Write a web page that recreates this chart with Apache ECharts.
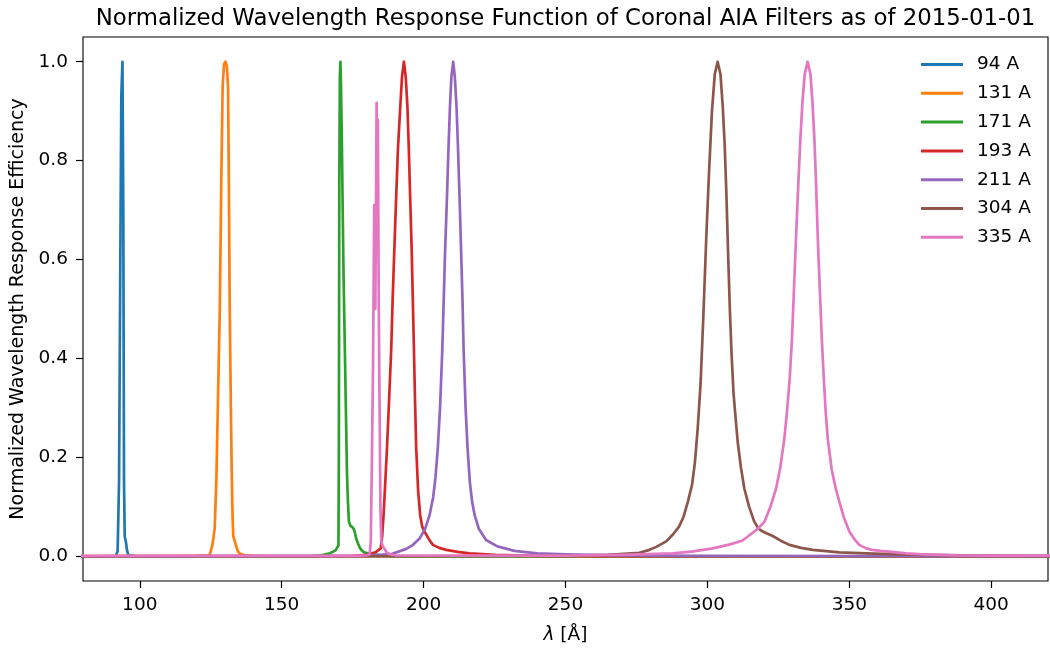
<!DOCTYPE html>
<html>
<head>
<meta charset="utf-8">
<script src="https://cdn.jsdelivr.net/npm/echarts@6/dist/echarts.min.js"></script>
<style>html,body{margin:0;padding:0;background:#fff}#c{width:1050px;height:650px}</style>
</head>
<body>
<div id="c"></div>
<script>
// ---- data ----
const seriesNames = ['94 A','131 A','171 A','193 A','211 A','304 A','335 A'];
const xTicks = [100,150,200,250,300,350,400];
const yTicks = [0,0.2,0.4,0.6,0.8,1.0];

const wl94 = [70, 91.5, 92.2, 92.7, 93.1, 93.5, 93.9, 94.2, 94.45, 94.7, 95.1, 95.5, 96.0, 100, 430];
const r94  = [0, 0, 0.01, 0.15, 0.55, 0.93, 1.0, 0.7, 0.15, 0.04, 0.03, 0.012, 0.002, 0, 0];

const wl131 = [70, 120, 124.6, 125.6, 126.4, 127.0, 127.6, 128.2, 128.7, 129.2, 129.7, 130.2, 130.7, 131.1, 131.4, 131.7, 132.1, 132.4, 132.7, 132.95, 133.3, 133.7, 134.1, 134.6, 135.3, 135.8, 137, 140, 145, 430];
const r131  = [0, 0.001, 0.002, 0.023, 0.056, 0.157, 0.33, 0.5, 0.75, 0.95, 0.995, 1.0, 0.99, 0.95, 0.75, 0.5, 0.3, 0.17, 0.08, 0.04, 0.034, 0.03, 0.018, 0.01, 0.005, 0.003, 0.002, 0.001, 0, 0];

const wl171 = [70, 160, 164, 167, 169, 170.0, 170.15, 170.3, 170.5, 170.7, 170.9, 171.2, 171.5, 171.8, 172.1, 172.4, 172.7, 173.0, 173.35, 173.7, 174.2, 174.6, 175.2, 175.7, 176.3, 176.9, 177.5, 178.0, 179, 181, 185, 190, 430];
const r171  = [0, 0, 0.002, 0.006, 0.012, 0.022, 0.2, 0.75, 0.97, 1.0, 0.95, 0.84, 0.7, 0.57, 0.47, 0.37, 0.27, 0.17, 0.11, 0.07, 0.062, 0.06, 0.057, 0.05, 0.035, 0.026, 0.018, 0.013, 0.008, 0.005, 0.002, 0, 0];

const wl193 = [70, 175, 180, 183, 184.9, 185.4, 185.9, 186.5, 187.1, 187.8, 188.6, 189.1, 189.7, 190.3, 190.96, 191.8, 192.4, 193.07, 193.7, 194.3, 194.8, 195.3, 195.8, 196.2, 196.6, 197.0, 197.4, 198.1, 198.8, 199.5, 200.35, 201.8, 203.3, 205.5, 208, 212, 216.2, 225, 240, 260, 430];
const r193  = [0, 0.001, 0.003, 0.008, 0.016, 0.04, 0.083, 0.15, 0.218, 0.31, 0.419, 0.52, 0.621, 0.72, 0.823, 0.91, 0.97, 1.0, 0.97, 0.91, 0.823, 0.72, 0.621, 0.52, 0.419, 0.31, 0.218, 0.13, 0.083, 0.06, 0.05, 0.035, 0.023, 0.017, 0.013, 0.009, 0.006, 0.003, 0.001, 0, 0];

const wl211 = [70, 180, 189, 193.9, 196, 198.6, 200.5, 202.1, 203.4, 204.2, 205.0, 205.8, 206.6, 207.1, 207.6, 208.2, 208.8, 209.3, 209.8, 210.45, 211.0, 211.6, 212.1, 212.7, 213.2, 213.7, 214.1, 214.8, 215.5, 216.3, 217.1, 218, 219.5, 222, 226, 232, 240, 250, 270, 300, 430];
const r211  = [0, 0.001, 0.005, 0.015, 0.022, 0.036, 0.055, 0.083, 0.12, 0.16, 0.218, 0.3, 0.419, 0.52, 0.621, 0.72, 0.83, 0.91, 0.97, 1.0, 0.97, 0.91, 0.83, 0.72, 0.621, 0.52, 0.419, 0.3, 0.218, 0.15, 0.11, 0.083, 0.055, 0.033, 0.02, 0.011, 0.006, 0.004, 0.002, 0.001, 0];

const wl304 = [70, 200, 250, 265, 276, 279.6, 282, 285.5, 288, 290, 291.6, 293.1, 294.6, 295.6, 296.6, 297.6, 298.6, 299.6, 300.6, 301.6, 302.6, 303.6, 304.6, 305.4, 306.1, 306.7, 307.3, 307.9, 308.5, 309.2, 310.0, 310.7, 311.8, 313.0, 314.7, 316.5, 318.0, 319.5, 321, 323, 326, 328.9, 333, 337.1, 346.5, 356, 367.6, 390, 420, 430];
const r304  = [0, 0, 0.001, 0.003, 0.007, 0.013, 0.019, 0.03, 0.045, 0.06, 0.08, 0.11, 0.145, 0.19, 0.26, 0.35, 0.49, 0.645, 0.78, 0.9, 0.975, 1.0, 0.975, 0.91, 0.83, 0.73, 0.61, 0.5, 0.41, 0.33, 0.275, 0.23, 0.18, 0.137, 0.1, 0.07, 0.056, 0.05, 0.046, 0.041, 0.031, 0.023, 0.017, 0.013, 0.008, 0.006, 0.004, 0.002, 0.001, 0.001];

const wl335 = [70, 175, 180, 181.0, 181.4, 181.8, 182.2, 182.6, 183.0, 183.45, 183.7, 183.9, 184.2, 184.5, 184.8, 185.1, 185.5, 186.2, 187, 188, 190, 250, 270, 287.8, 295, 301.9, 308, 312.4, 316.5, 318, 320.1, 322.2, 324.2, 325.7, 327.1, 328.0, 329.0, 329.8, 330.5, 331.2, 332.0, 332.75, 333.5, 334.3, 335.3, 336.3, 337.0, 337.7, 338.3, 338.9, 339.6, 340.3, 341.0, 341.7, 342.4, 343.8, 345.3, 346.5, 348, 350, 352, 353.5, 356, 358, 361, 364, 370, 375.7, 387, 400, 430];
const r335  = [0.001, 0.001, 0.002, 0.004, 0.03, 0.2, 0.39, 0.71, 0.5, 0.917, 0.7, 0.883, 0.51, 0.3, 0.1, 0.03, 0.022, 0.015, 0.008, 0.004, 0.002, 0.0015, 0.003, 0.006, 0.01, 0.016, 0.024, 0.032, 0.05, 0.057, 0.07, 0.1, 0.137, 0.18, 0.238, 0.29, 0.36, 0.44, 0.54, 0.641, 0.75, 0.843, 0.92, 0.975, 1.0, 0.975, 0.92, 0.843, 0.75, 0.641, 0.54, 0.44, 0.36, 0.29, 0.238, 0.175, 0.135, 0.11, 0.08, 0.05, 0.033, 0.023, 0.016, 0.013, 0.011, 0.0095, 0.006, 0.004, 0.002, 0.0015, 0.001];

const colors = ['#1f77b4','#ff7f0e','#2ca02c','#d62728','#9467bd','#8c564b','#e377c2'];
// ---------------------------------------

const allWl = [wl94, wl131, wl171, wl193, wl211, wl304, wl335];
const allR  = [r94, r131, r171, r193, r211, r304, r335];
const FONT = 'DejaVu Sans';
const FS = 18.5;

const chart = echarts.init(document.getElementById('c'), null, {renderer: 'canvas'});
chart.setOption({
  animation: false,
  backgroundColor: '#fff',
  color: colors,
  title: {
    text: 'Normalized Wavelength Response Function of Coronal AIA Filters as of 2015-01-01',
    left: 565.5, textAlign: 'center', top: 8, padding: 0,
    textStyle: {fontFamily: FONT, fontSize: 22.8, fontWeight: 'normal', color: '#000'}
  },
  legend: {
    orient: 'vertical', left: 921, top: 55, padding: 0,
    icon: 'rect', itemWidth: 42, itemHeight: 3, itemGap: 9.8,
    textStyle: {fontFamily: FONT, fontSize: FS, color: '#000', lineHeight: FS, padding: [0,0,0,9]},
    data: seriesNames
  },
  grid: {left: 83, right: 2, top: 37, bottom: 67.5, show: true, borderColor: '#000', borderWidth: 1.1, containLabel: false},
  xAxis: {
    type: 'value', min: 80, max: 420,
    name: '{i|λ} [Å]', nameLocation: 'middle', nameGap: 45,
    nameTextStyle: {fontFamily: FONT, fontSize: FS, color: '#000',
      rich: {i: {fontFamily: FONT, fontStyle: 'italic', fontSize: FS, color: '#000'}}},
    axisLine: {show: false, onZero: false},
    axisTick: {show: true, length: 7, inside: false, customValues: xTicks, lineStyle: {color: '#000', width: 1.2}},
    axisLabel: {customValues: xTicks, fontFamily: FONT, fontSize: FS, color: '#000', margin: 15},
    splitLine: {show: false}
  },
  yAxis: {
    type: 'value', min: -0.05, max: 1.05,
    name: 'Normalized Wavelength Response Efficiency', nameLocation: 'middle', nameGap: 54, nameRotate: 90,
    nameTextStyle: {fontFamily: FONT, fontSize: 19, color: '#000'},
    axisLine: {show: false, onZero: false},
    axisTick: {show: true, length: 7, inside: false, customValues: yTicks, lineStyle: {color: '#000', width: 1.2}},
    axisLabel: {customValues: yTicks, fontFamily: FONT, fontSize: FS, color: '#000', margin: 15,
      formatter: v => v.toFixed(1)},
    splitLine: {show: false}
  },
  series: seriesNames.map((n, i) => ({
    name: n, type: 'line', showSymbol: false, symbol: 'none', clip: true,
    lineStyle: {width: 2.7, color: colors[i], join: 'round', cap: 'round'},
    itemStyle: {color: colors[i]},
    emphasis: {disabled: true},
    data: allWl[i].map((w, k) => [w, allR[i][k]])
  }))
});
</script>
</body>
</html>
